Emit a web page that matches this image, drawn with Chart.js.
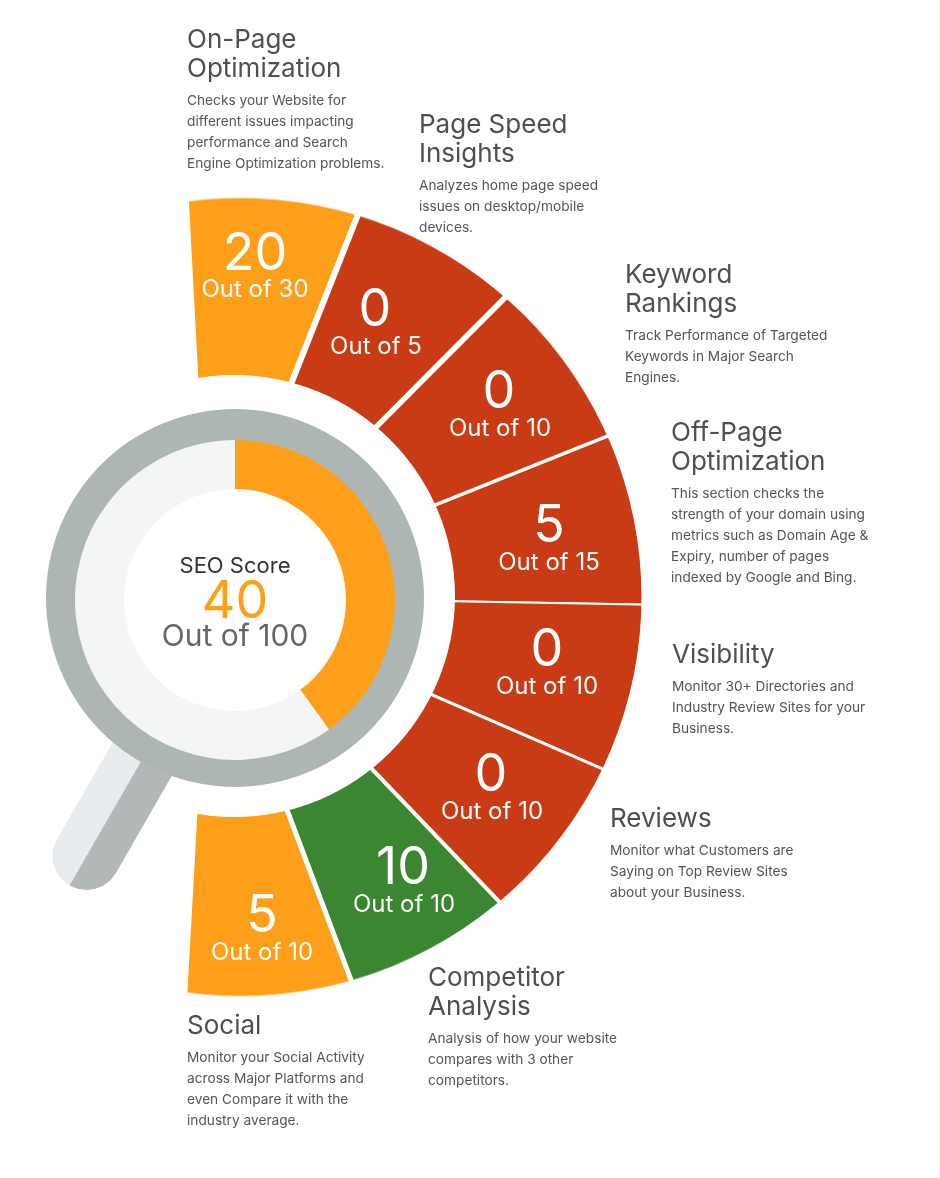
<!DOCTYPE html>
<html>
<head>
<meta charset="utf-8">
<title>SEO Score</title>
<script src="https://cdn.jsdelivr.net/npm/chart.js@4"></script>
<style>
  html, body { margin: 0; padding: 0; background: #fff; }
  #page { position: relative; width: 940px; height: 1178px; overflow: hidden; font-family: Inter, sans-serif; }
  #page::after { content: ''; position: absolute; right: 0; top: 0; width: 1px; height: 100%; background: #eeeeee; }
  canvas { position: absolute; }
  .block { position: absolute; color: #4f4f4f; white-space: nowrap; z-index: 5; }
  .block h3 { margin: 0; font-size: 26px; line-height: 29px; font-weight: 400; }
  .block p { margin: 8px 0 0; font-size: 13.7px; line-height: 21px; color: #555; }
  .mid { position: absolute; transform: translate(-50%, -50%); white-space: nowrap; z-index: 5; line-height: 1; }
</style>
</head>
<body>
<div id="page">
  <canvas id="slices" width="900" height="900" style="left:-243px;top:147px"></canvas>
  <canvas id="trim" width="970" height="970" style="left:-245px;top:112px;transform:scaleY(.9938)"></canvas>
  <canvas id="hole" width="442" height="442" style="left:13px;top:375px"></canvas>
  <canvas id="handle" width="940" height="1178" style="left:0;top:0"></canvas>
  <canvas id="ring" width="378" height="378" style="left:46px;top:409px"></canvas>
  <canvas id="gauge" width="320" height="320" style="left:75px;top:440px"></canvas>
</div>
<script>
// section scores, clockwise from the top
const scores = [20, 0, 0, 5, 0, 0, 10, 5]
const maxScores = [30, 5, 10, 15, 10, 10, 10, 10]
// slices are not proportional, every one is about 23 degrees wide
const sliceSpans = [24.6, 23.35, 23.3, 22.8, 22.5, 22.7, 23.2, 23.8]
const sliceColors = ['#fd9f19', '#c83b14', '#c83b14', '#c83b14', '#c83b14', '#c83b14', '#3b8731', '#fd9f19']
const gapWidths = [6, 6, 5, 2, 2, 3, 4, 5]

const totalScore = 40
const totalMax = 100

const titles = [
  ['On-Page', 'Optimization'],
  ['Page Speed', 'Insights'],
  ['Keyword', 'Rankings'],
  ['Off-Page', 'Optimization'],
  ['Visibility'],
  ['Reviews'],
  ['Competitor', 'Analysis'],
  ['Social']
]
const descriptions = [
  ['Checks your Website for', 'different issues impacting', 'performance and Search', 'Engine Optimization problems.'],
  ['Analyzes home page speed', 'issues on desktop/mobile', 'devices.'],
  ['Track Performance of Targeted', 'Keywords in Major Search', 'Engines.'],
  ['This section checks the', 'strength of your domain using', 'metrics such as Domain Age &', 'Expiry, number of pages', 'indexed by Google and Bing.'],
  ['Monitor 30+ Directories and', 'Industry Review Sites for your', 'Business.'],
  ['Monitor what Customers are', 'Saying on Top Review Sites', 'about your Business.'],
  ['Analysis of how your website', 'compares with 3 other', 'competitors.'],
  ['Monitor your Social Activity', 'across Major Platforms and', 'even Compare it with the', 'industry average.']
]

// magnifier handle outline, in page pixels
const handleLine = [{x: 150, y: 746}, {x: 86.5, y: 856}]
const handleDark = [
  {x: 150, y: 746}, {x: 179, y: 763}, {x: 115.9, y: 873}, {x: 110.5, y: 880}, {x: 103.5, y: 885.4},
  {x: 95.3, y: 888.8}, {x: 86.5, y: 890}, {x: 77.7, y: 888.8}, {x: 69.5, y: 885.4}
]

// where the text goes
const blockPos = [[187, 24], [419, 109], [625, 259], [671, 417], [672, 639], [610, 803], [428, 962], [187, 1010]]
const scorePos = [[255, 252], [375, 308], [499, 390], [549, 524], [547, 648], [491, 773], [403, 866], [262, 914]]
const outOfPos = [[255, 289], [376, 346], [500, 428], [549, 562], [547, 686], [492, 811], [404, 904], [262, 952]]

let page = document.getElementById('page')

let addMid = (text, x, y, size, color) => {
  let el = document.createElement('div')
  el.className = 'mid'
  el.textContent = text
  el.style.left = x + 'px'
  el.style.top = y + 'px'
  el.style.fontSize = size + 'px'
  el.style.color = color
  page.appendChild(el)
}

titles.forEach((t, i) => {
  let el = document.createElement('div')
  el.className = 'block'
  el.style.left = blockPos[i][0] + 'px'
  el.style.top = blockPos[i][1] + 'px'
  el.innerHTML = '<h3>' + t.join('<br>') + '</h3><p>' + descriptions[i].join('<br>').replace(/&/g, '&amp;') + '</p>'
  page.appendChild(el)
})

scores.forEach((s, i) => {
  addMid(String(s), scorePos[i][0], scorePos[i][1], 52, '#fff')
  addMid('Out of ' + maxScores[i], outOfPos[i][0], outOfPos[i][1], 24, '#fff')
})

addMid('SEO Score', 235, 565, 22, '#333')
addMid(String(totalScore), 235, 600, 52, '#fd9f19')
addMid('Out of ' + totalMax, 235, 635, 30, '#666')

const base = {
  responsive: false,
  animation: false,
  events: [],
  layout: {padding: 0},
  plugins: {legend: {display: false}, tooltip: {enabled: false}}
}

// the wedges fan out from a point left of the ring centre
new Chart(document.getElementById('slices'), {
  type: 'doughnut',
  data: {
    datasets: [
      {data: sliceSpans, backgroundColor: sliceColors, borderColor: '#fff', borderWidth: gapWidths, rotation: -3.05, circumference: 186.25},
      {data: [1], backgroundColor: 'rgba(0,0,0,0)', borderWidth: 0, weight: 0, rotation: 0, circumference: 360}
    ]
  },
  options: {...base, cutout: 0}
})

// white ring and disc trim the wedges to the arc
new Chart(document.getElementById('trim'), {
  type: 'doughnut',
  data: {datasets: [{data: [1], backgroundColor: '#fff', borderWidth: 0}]},
  options: {...base, cutout: 401.5}
})
new Chart(document.getElementById('hole'), {
  type: 'pie',
  data: {datasets: [{data: [1], backgroundColor: '#fff', borderWidth: 0}]},
  options: base
})

// first dataset is painted last
new Chart(document.getElementById('handle'), {
  type: 'line',
  data: {
    datasets: [
      {data: handleDark, fill: 'shape', backgroundColor: '#b2b8b7', borderWidth: 0, pointRadius: 0},
      {data: handleLine, borderColor: '#e9ecef', borderWidth: 68, borderCapStyle: 'round', pointRadius: 0}
    ]
  },
  options: {
    ...base,
    scales: {
      x: {type: 'linear', display: false, min: 0, max: 940},
      y: {display: false, min: 0, max: 1178, reverse: true}
    }
  }
})

new Chart(document.getElementById('ring'), {
  type: 'doughnut',
  data: {
    datasets: [
      {data: [1], backgroundColor: '#aeb6b4', borderWidth: 0, weight: 34},
      {data: [1], backgroundColor: '#fff', borderWidth: 0, weight: 155}
    ]
  },
  options: {...base, cutout: 0}
})

new Chart(document.getElementById('gauge'), {
  type: 'doughnut',
  data: {
    datasets: [
      {data: [totalScore, totalMax - totalScore], backgroundColor: ['#fd9f19', '#f3f5f7'], borderWidth: 0}
    ]
  },
  options: {...base, cutout: 111}
})
</script>
</body>
</html>
